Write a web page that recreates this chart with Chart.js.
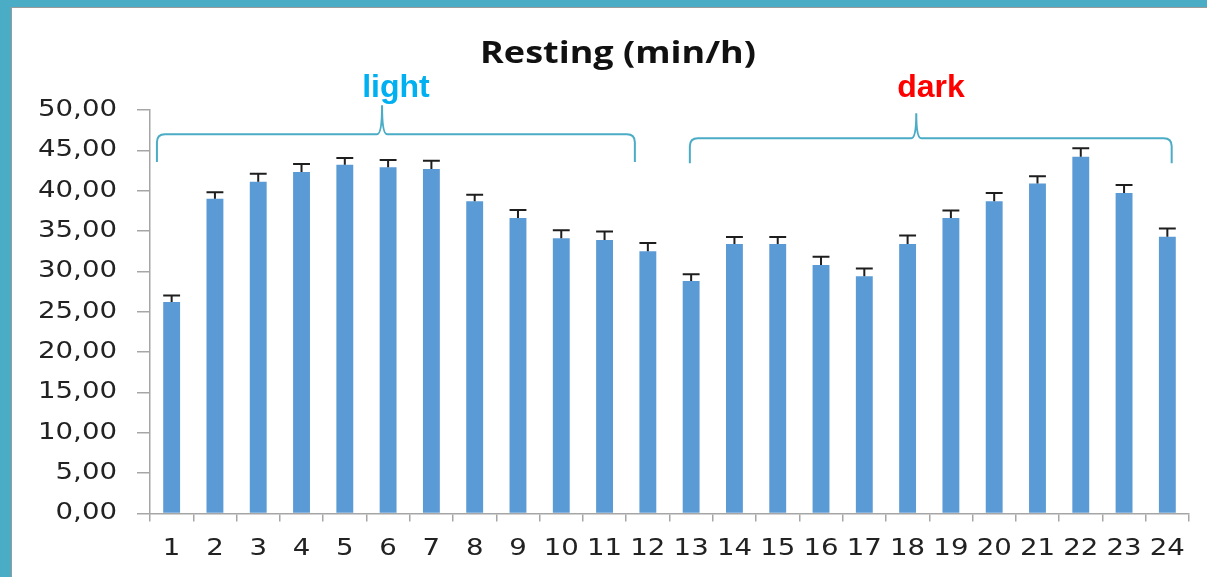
<!DOCTYPE html>
<html lang="en">
<head>
  <meta charset="UTF-8">
  <title>Resting (min/h)</title>
  <script src="https://cdn.jsdelivr.net/npm/chart.js@4.4.1/dist/chart.umd.min.js"></script>
  <style>
    html, body { margin: 0; padding: 0; overflow: hidden; }
    body { background: #4bacc6; width: 1207px; height: 577px; position: relative; }
    .panel {
      position: absolute;
      left: 11px; top: 7px;
      width: 1212px; height: 569px;
      background: #fff;
      border-top: 1px solid #9a9a9a;
      border-left: 1px solid #9a9a9a;
    }
    canvas { display: block; }
  </style>
</head>
<body>
  <div class="panel">
    <canvas id="restChart"></canvas>
  </div>

  <script>
    const hours = ['1','2','3','4','5','6','7','8','9','10','11','12','13','14','15','16','17','18','19','20','21','22','23','24'];
    const restingMean = [26.2, 39.0, 41.1, 42.3, 43.2, 42.9, 42.7, 38.7, 36.6, 34.1, 33.9, 32.5,
                         28.8, 33.4, 33.4, 30.8, 29.4, 33.4, 36.6, 38.7, 40.9, 44.2, 39.7, 34.3];
    const restingErr  = [0.8, 0.8, 1.0, 1.0, 0.85, 0.9, 1.0, 0.8, 1.0, 1.0, 1.05, 1.0,
                         0.85, 0.85, 0.85, 1.0, 0.95, 1.05, 0.95, 1.0, 0.9, 1.05, 1.0, 1.0];
    const yTicks = [0, 5, 10, 15, 20, 25, 30, 35, 40, 45, 50];

    // light / dark brackets, in category index and value units
    const phases = [
      { text: 'light', color: '#00b0f0', from: -0.34, to: 10.7, tip: 4.86, labelAt: 5.18, line: 47.0, top: 50.6, end: 43.55 },
      { text: 'dark',  color: '#ff0000', from: 11.97, to: 23.1, tip: 17.2, labelAt: 17.54, line: 46.5, top: 49.6, end: 43.4 }
    ];
    const labelBase = 51.6;

    const ctx = document.getElementById('restChart').getContext('2d');

    // title and axis text in the original is stretched sideways, ~1.2x
    let stretch = 1;
    const plainFillText = ctx.fillText;
    ctx.fillText = function (text, x, y, maxWidth) {
      if (stretch === 1) return plainFillText.call(this, text, x, y, maxWidth);
      this.save();
      this.translate(x, y);
      this.scale(stretch, 1);
      plainFillText.call(this, text, 0, 0);
      this.restore();
    };
    const wideText = {
      id: 'wideText',
      // title is centred on the whole canvas, not just left of the right padding
      afterLayout(chart) { if (chart.titleBlock) chart.titleBlock.right = chart.width; },
      beforeDraw() { stretch = 1.2; },
      beforeDatasetsDraw() { stretch = 1; },
      afterDraw() { stretch = 1; }
    };

    const errorBars = {
      id: 'errorBars',
      afterDatasetsDraw(chart) {
        const { ctx, scales: { x, y } } = chart;
        const meta = chart.getDatasetMeta(0);
        ctx.save();
        ctx.strokeStyle = '#1e1e1e';
        ctx.lineWidth = 2;
        meta.data.forEach((bar, i) => {
          const cx = x.getPixelForValue(i);
          const y0 = y.getPixelForValue(restingMean[i]);
          const y1 = y.getPixelForValue(restingMean[i] + restingErr[i]);
          const half = bar.width / 2;
          ctx.beginPath();
          ctx.moveTo(cx, y0);
          ctx.lineTo(cx, y1);
          ctx.moveTo(cx - half, y1);
          ctx.lineTo(cx + half, y1);
          ctx.stroke();
        });
        ctx.restore();
      }
    };

    const brackets = {
      id: 'brackets',
      afterDraw(chart) {
        const { ctx, scales: { x, y } } = chart;
        const r = 8;
        ctx.save();
        phases.forEach(p => {
          const xl = x.getPixelForValue(p.from), xr = x.getPixelForValue(p.to), xt = x.getPixelForValue(p.tip);
          const yl = y.getPixelForValue(p.line), yt = y.getPixelForValue(p.top), ye = y.getPixelForValue(p.end);
          ctx.strokeStyle = '#4bacc6';
          ctx.lineWidth = 2;
          ctx.beginPath();
          ctx.moveTo(xl, ye);
          ctx.lineTo(xl, yl + r);
          ctx.quadraticCurveTo(xl, yl, xl + r, yl);
          ctx.lineTo(xt - 5, yl);
          ctx.quadraticCurveTo(xt, yl, xt, yt);
          ctx.quadraticCurveTo(xt, yl, xt + 5, yl);
          ctx.lineTo(xr - r, yl);
          ctx.quadraticCurveTo(xr, yl, xr, yl + r);
          ctx.lineTo(xr, ye);
          ctx.stroke();

          ctx.fillStyle = p.color;
          ctx.font = 'bold 32px "Liberation Sans", Arial, sans-serif';
          ctx.textAlign = 'center';
          ctx.textBaseline = 'alphabetic';
          ctx.fillText(p.text, x.getPixelForValue(p.labelAt), y.getPixelForValue(labelBase));
        });
        ctx.restore();
      }
    };

    new Chart(ctx, {
      type: 'bar',
      data: {
        labels: hours,
        datasets: [{
          label: 'Resting',
          data: restingMean,
          backgroundColor: '#5b9bd5',
          borderWidth: 0,
          categoryPercentage: 1,
          barPercentage: 0.39
        }]
      },
      options: {
        responsive: true,
        maintainAspectRatio: false,
        animation: false,
        layout: { padding: { left: 0, right: 35, top: 0, bottom: 0 } },
        plugins: {
          legend: { display: false },
          tooltip: { enabled: false },
          title: {
            display: true,
            text: 'Resting (min/h)',
            color: '#111',
            font: { family: '"Open Sans", sans-serif', size: 30, weight: 'bold', lineHeight: 1.2 },
            padding: { top: 28, bottom: 38 }
          }
        },
        scales: {
          x: {
            grid: { display: true, drawOnChartArea: false, drawTicks: true, tickLength: 8, color: '#a6a6a6', lineWidth: 1.5 },
            border: { color: '#a6a6a6', width: 1.5 },
            ticks: {
              color: '#222',
              padding: 14,
              maxRotation: 0,
              autoSkip: false,
              font: { family: '"DejaVu Sans", sans-serif', size: 23 }
            }
          },
          y: {
            min: 0,
            max: 50,
            afterBuildTicks: axis => { axis.ticks = yTicks.map(v => ({ value: v })); },
            afterFit: axis => { axis.width = 138; },
            grid: { display: true, drawOnChartArea: false, drawTicks: true, tickLength: 13, color: '#a6a6a6', lineWidth: 1.5 },
            border: { color: '#a6a6a6', width: 1.5 },
            ticks: {
              color: '#222',
              padding: 20,
              font: { family: '"DejaVu Sans", sans-serif', size: 23 },
              callback: v => v.toFixed(2).replace('.', ',')
            }
          }
        }
      },
      plugins: [wideText, errorBars, brackets]
    });
  </script>
</body>
</html>
